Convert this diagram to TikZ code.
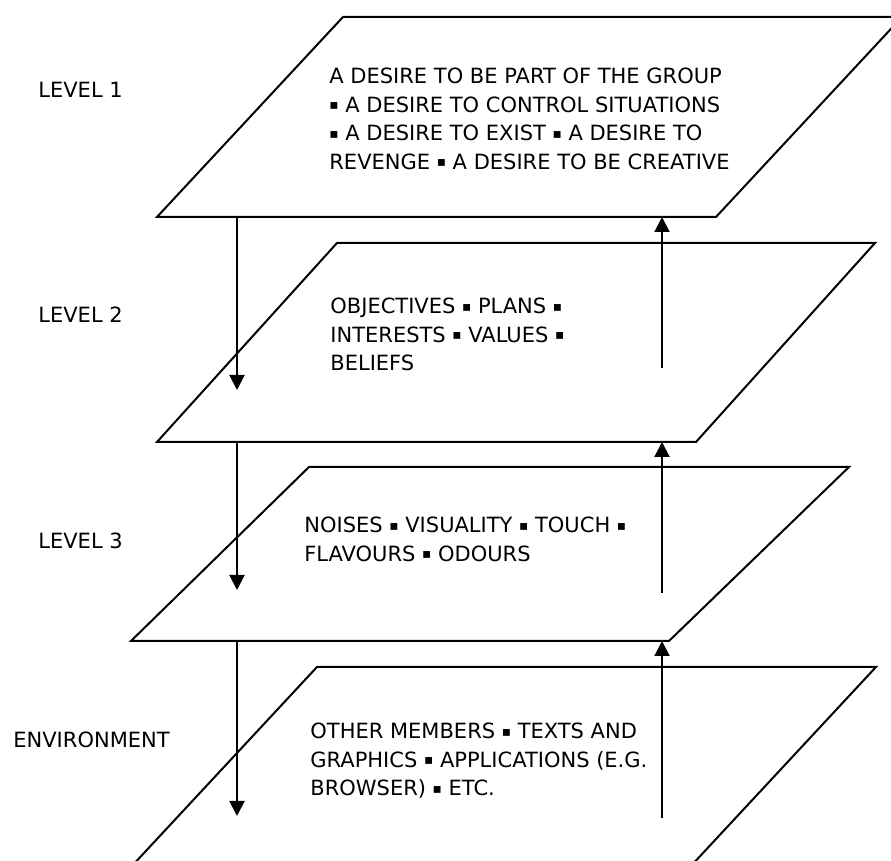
\documentclass[tikz,border=0pt]{standalone}
\usepackage{fontspec}
\setmainfont{DejaVu Sans}
\usetikzlibrary{arrows.meta}
\newcommand{\blt}{\raisebox{0.12em}{\scalebox{0.65}{▪}}}

\begin{document}
\begin{tikzpicture}[x=0.5pt,y=0.5pt,
    plane/.style={line width=1pt, line join=miter},
    flow/.style={line width=1pt, -{Triangle[length=7.5pt,width=7.5pt]}},
    lvl/.style={anchor=base west, inner sep=0pt, font=\fontsize{10.5}{14.2}\selectfont},
    desc/.style={anchor=north west, inner sep=0pt, align=left, font=\fontsize{10.5}{14.2}\selectfont}]
    \useasboundingbox (0,0) rectangle (891,861);

    % Level 1
    \coordinate (p1bl) at (157,644);
    \coordinate (p1br) at (716,644);
    \coordinate (p1tr) at (902,844);
    \coordinate (p1tl) at (343,844);
    \draw[plane] (p1bl) -- (p1br) -- (p1tr) -- (p1tl) -- cycle;
    \node[lvl] (lev1) at (38,763) {LEVEL 1};
    \node[desc] (txt1) at (329,793) {A DESIRE TO BE PART OF THE GROUP\\
        \blt{} A DESIRE TO CONTROL SITUATIONS\\
        \blt{} A DESIRE TO EXIST \blt{} A DESIRE TO\\
        REVENGE \blt{} A DESIRE TO BE CREATIVE};

    % Level 2
    \coordinate (p2bl) at (157,419);
    \coordinate (p2br) at (696,419);
    \coordinate (p2tr) at (875,618);
    \coordinate (p2tl) at (337,618);
    \draw[plane] (p2bl) -- (p2br) -- (p2tr) -- (p2tl) -- cycle;
    \node[lvl] (lev2) at (38,538) {LEVEL 2};
    \node[desc] (txt2) at (330,563) {OBJECTIVES \blt{} PLANS \blt\\
        INTERESTS \blt{} VALUES \blt\\
        BELIEFS};

    % Level 3
    \coordinate (p3bl) at (131,220);
    \coordinate (p3br) at (669,220);
    \coordinate (p3tr) at (849,394);
    \coordinate (p3tl) at (309,394);
    \draw[plane] (p3bl) -- (p3br) -- (p3tr) -- (p3tl) -- cycle;
    \node[lvl] (lev3) at (38,312) {LEVEL 3};
    \node[desc] (txt3) at (304,344) {NOISES \blt{} VISUALITY \blt{} TOUCH \blt\\
        FLAVOURS \blt{} ODOURS};

    % Environment (runs off the bottom)
    \coordinate (p4bl) at (131,-6);
    \coordinate (p4br) at (690,-6);
    \coordinate (p4tr) at (876,194);
    \coordinate (p4tl) at (317,194);
    \draw[plane] (p4bl) -- (p4br) -- (p4tr) -- (p4tl) -- cycle;
    \node[lvl] (lev4) at (13,113) {ENVIRONMENT};
    \node[desc] (txt4) at (310,138) {OTHER MEMBERS \blt{} TEXTS AND\\
        GRAPHICS \blt{} APPLICATIONS (E.G.\\
        BROWSER) \blt{} ETC.};

    % Downward arrows
    \coordinate (dn1s) at (237,644);
    \coordinate (dn1e) at (237,471);
    \coordinate (dn2s) at (237,419);
    \coordinate (dn2e) at (237,271);
    \coordinate (dn3s) at (237,220);
    \coordinate (dn3e) at (237,45);
    \draw[flow] (dn1s) -- (dn1e);
    \draw[flow] (dn2s) -- (dn2e);
    \draw[flow] (dn3s) -- (dn3e);

    % Upward arrows
    \coordinate (up1s) at (662,493);
    \coordinate (up1e) at (662,644);
    \coordinate (up2s) at (662,268);
    \coordinate (up2e) at (662,419);
    \coordinate (up3s) at (662,43);
    \coordinate (up3e) at (662,220);
    \draw[flow] (up1s) -- (up1e);
    \draw[flow] (up2s) -- (up2e);
    \draw[flow] (up3s) -- (up3e);
\end{tikzpicture}
\end{document}
